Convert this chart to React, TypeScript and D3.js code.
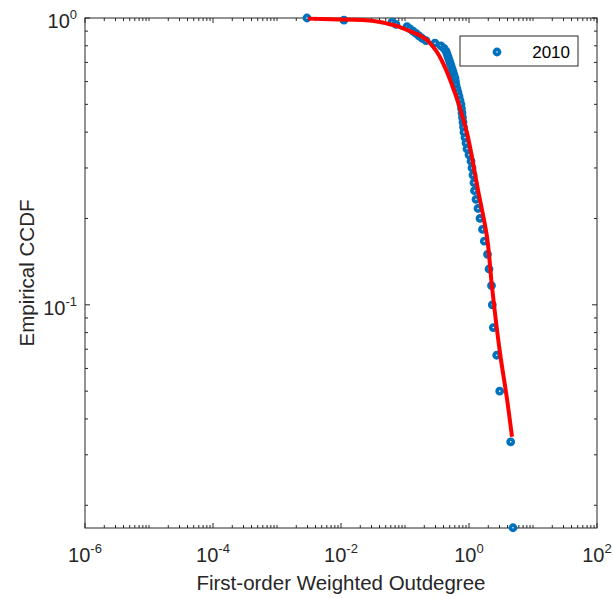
import React from "react";
import * as d3 from "d3";

// Empirical CCDF points (x ascending)
const ccdfX = [0.00294, 0.01113, 0.0626, 0.0723, 0.1075, 0.1197, 0.1334, 0.1485, 0.1655, 0.1844,
  0.2129, 0.2942, 0.3652, 0.4068, 0.4371, 0.4530, 0.4695, 0.4870, 0.5047, 0.5233,
  0.5425, 0.5623, 0.5829, 0.6043, 0.6153, 0.6264, 0.6494, 0.6732, 0.6979, 0.7236,
  0.7499, 0.7636, 0.7776, 0.7914, 0.8058, 0.8205, 0.8354, 0.8660, 0.8977, 0.9306,
  1.0, 1.0746, 1.114, 1.155, 1.197, 1.219, 1.286, 1.382, 1.485, 1.625,
  1.734, 1.945, 2.054, 2.247, 2.312, 2.397, 2.709, 3.018, 4.483, 4.870];
const ccdfY = [1.0, 0.9833, 0.9667, 0.95, 0.9333, 0.9167, 0.9, 0.8833, 0.8667, 0.85,
  0.8333, 0.8167, 0.8, 0.7833, 0.7667, 0.75, 0.7333, 0.7167, 0.7, 0.6833,
  0.6667, 0.65, 0.6333, 0.6167, 0.6, 0.5833, 0.5667, 0.55, 0.5333, 0.5167,
  0.5, 0.4833, 0.4667, 0.45, 0.4333, 0.4167, 0.4, 0.3833, 0.3667, 0.35,
  0.3333, 0.3167, 0.3, 0.2833, 0.2667, 0.25, 0.2333, 0.2167, 0.2, 0.1833,
  0.1667, 0.15, 0.1333, 0.1167, 0.1, 0.0833, 0.0667, 0.05, 0.0333, 0.0167];

// Fitted curve
const fitX = [0.00305, 0.00673, 0.02207, 0.04069, 0.0649, 0.0835, 0.1075, 0.1540, 0.1844, 0.2207,
  0.2642, 0.3162, 0.3786, 0.4530, 0.5425, 0.6494, 0.7776, 0.9306, 1.037, 1.382,
  1.911, 2.288, 3.050, 3.882, 4.697];
const fitY = [0.995, 0.9896, 0.984, 0.9684, 0.9454, 0.930, 0.908, 0.880, 0.860, 0.838,
  0.802, 0.761, 0.708, 0.648, 0.584, 0.522, 0.459, 0.397, 0.355, 0.2516,
  0.1725, 0.1155, 0.0680, 0.0478, 0.0347];

const xTickExps = [-6, -4, -2, 0, 2];
const yTickExps = [-1, 0];
const legendLabel = "2010";
const xTitle = "First-order Weighted Outdegree";
const yTitle = "Empirical CCDF";

const W = 613, H = 598;
const L = 85, R = 597, T = 18, B = 528;
const AX = "#262626";
const FONT = "'Liberation Sans', Arial, Helvetica, sans-serif";
const BLUE = "#0072BD";

export default function App() {
  const x = d3.scaleLog().domain([1e-6, 1e2]).range([L, R]);
  const y = d3.scaleLog().domain([1 / 60, 1]).range([B, T]);

  const xMinor: number[] = [];
  for (let e = -6; e < 2; e++) for (let m = 1; m <= 9; m++) {
    const v = m * Math.pow(10, e);
    if (m === 1 && xTickExps.includes(e)) continue;
    xMinor.push(v);
  }
  const yMinor: number[] = [];
  for (let e = -2; e < 0; e++) for (let m = 1; m <= 9; m++) {
    const v = m * Math.pow(10, e);
    if (m === 1 && yTickExps.includes(e)) continue;
    if (v >= 1 / 60 && v <= 1) yMinor.push(v);
  }

  const pts = ccdfX.map((v, i) => [x(v), y(ccdfY[i])] as [number, number]);
  const fitPts = fitX.map((v, i) => [x(v), y(fitY[i])] as [number, number]);
  const line = d3.line().curve(d3.curveCatmullRom.alpha(0.5))(fitPts) || "";

  const major = 5, minor = 3;
  const mr = 2.6, msw = 3.6;

  return (
    <svg width={W} height={H} style={{ position: "absolute", left: 0, top: 0 }} fontFamily={FONT}>
      <rect x={0} y={0} width={W} height={H} fill="#fff" />
      {/* ticks */}
      <g stroke={AX} strokeWidth={1}>
        {xMinor.map((v, i) => (
          <g key={"xm" + i}>
            <line x1={x(v)} x2={x(v)} y1={B} y2={B - minor} />
            <line x1={x(v)} x2={x(v)} y1={T} y2={T + minor} />
          </g>
        ))}
        {xTickExps.map((e) => (
          <g key={"xM" + e}>
            <line x1={x(Math.pow(10, e))} x2={x(Math.pow(10, e))} y1={B} y2={B - major} />
            <line x1={x(Math.pow(10, e))} x2={x(Math.pow(10, e))} y1={T} y2={T + major} />
          </g>
        ))}
        {yMinor.map((v, i) => (
          <g key={"ym" + i}>
            <line x1={L} x2={L + minor} y1={y(v)} y2={y(v)} />
            <line x1={R} x2={R - minor} y1={y(v)} y2={y(v)} />
          </g>
        ))}
        {yTickExps.map((e) => (
          <g key={"yM" + e}>
            <line x1={L} x2={L + major} y1={y(Math.pow(10, e))} y2={y(Math.pow(10, e))} />
            <line x1={R} x2={R - major} y1={y(Math.pow(10, e))} y2={y(Math.pow(10, e))} />
          </g>
        ))}
      </g>
      <rect x={L} y={T} width={R - L} height={B - T} fill="none" stroke={AX} strokeWidth={1} />

      {/* tick labels */}
      {xTickExps.map((e) => (
        <text key={"xl" + e} x={x(Math.pow(10, e))} y={562} textAnchor="middle" fontSize={20} fill={AX}>
          <tspan>10</tspan>
          <tspan dy={-9} fontSize={13}>{String(e)}</tspan>
        </text>
      ))}
      {yTickExps.map((e) => (
        <text key={"yl" + e} x={77} y={y(Math.pow(10, e)) + 10.3} textAnchor="end" fontSize={20} fill={AX}>
          <tspan>10</tspan>
          <tspan dy={-9} fontSize={13}>{String(e)}</tspan>
        </text>
      ))}

      {/* axis titles */}
      <text x={(L + R) / 2} y={590} textAnchor="middle" fontSize={20.5} fill={AX}>{xTitle}</text>
      <text transform={`translate(34,${(T + B) / 2}) rotate(-90)`} textAnchor="middle" fontSize={20.5} fill={AX}>{yTitle}</text>

      {/* data markers */}
      <g fill="#fff" stroke={BLUE} strokeWidth={msw}>
        {pts.map((p, i) => (
          <circle key={i} cx={p[0]} cy={p[1]} r={mr} />
        ))}
      </g>
      {/* fit line */}
      <path d={line} fill="none" stroke="#FF0000" strokeWidth={4} strokeLinejoin="round" />

      {/* legend */}
      <rect x={460} y={36} width={118} height={30} fill="#fff" stroke={AX} strokeWidth={1} />
      <circle cx={497} cy={52} r={mr} fill="#fff" stroke={BLUE} strokeWidth={msw} />
      <text x={570} y={58.3} textAnchor="end" fontSize={17} fill="#000">{legendLabel}</text>
    </svg>
  );
}
